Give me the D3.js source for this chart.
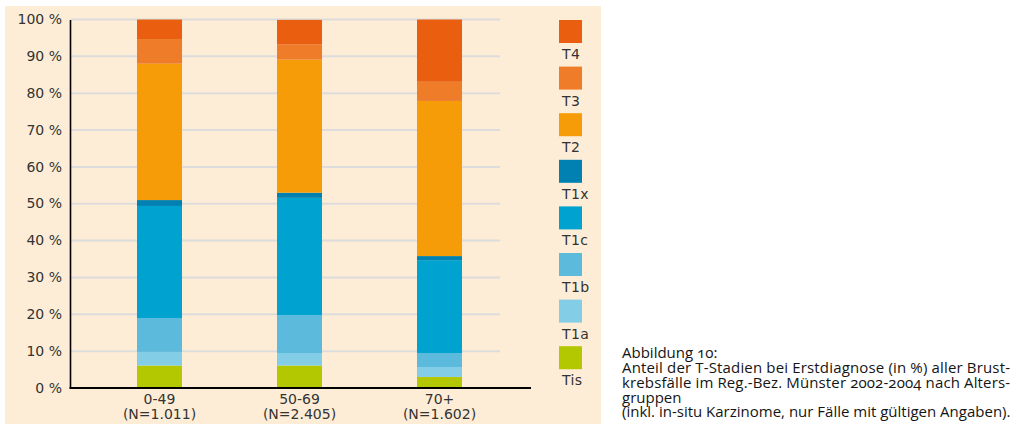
<!DOCTYPE html>
<html>
<head>
<meta charset="utf-8">
<script src="https://cdn.jsdelivr.net/npm/d3@7/dist/d3.min.js"></script>
<style>
  html, body { margin: 0; padding: 0; background: #ffffff; }
  svg { display: block; }
</style>
</head>
<body>
<svg id="chart" width="1021" height="427"></svg>
<script>
// Age groups and case counts
const groups = ["0-49", "50-69", "70+"];
const groupN = ["(N=1.011)", "(N=2.405)", "(N=1.602)"];

// T stage shares (%) per age group, bottom to top of each stack
const stages = ["Tis", "T1a", "T1b", "T1c", "T1x", "T2", "T3", "T4"];
const tis = [6.1, 6.1, 3.0];
const t1a = [3.7, 3.4, 2.7];
const t1b = [9.2, 10.3, 3.8];
const t1c = [30.4, 31.8, 25.2];
const t1x = [1.6, 1.4, 1.1];
const t2  = [37.0, 36.1, 42.1];
const t3  = [6.7, 4.1, 5.2];
const t4  = [5.3, 6.7, 16.9];

const yTicks = [0, 10, 20, 30, 40, 50, 60, 70, 80, 90, 100];

const stageColors = {
  Tis: "#b3c800",
  T1a: "#84cde7",
  T1b: "#5cbadc",
  T1c: "#00a3d0",
  T1x: "#0081b2",
  T2:  "#f59c08",
  T3:  "#ee7c29",
  T4:  "#e95e0f"
};

const captionLines = [
  "Abbildung 10:",
  "Anteil der T-Stadien bei Erstdiagnose (in %) aller Brust-",
  "krebsfälle im Reg.-Bez. Münster 2002-2004 nach Alters-",
  "gruppen",
  "(inkl. in-situ Karzinome, nur Fälle mit gültigen Angaben)."
];

// build rows for the stack layout
const seriesByStage = { Tis: tis, T1a: t1a, T1b: t1b, T1c: t1c, T1x: t1x, T2: t2, T3: t3, T4: t4 };
const rows = groups.map((g, i) => {
  const r = { group: g };
  stages.forEach(s => { r[s] = seriesByStage[s][i]; });
  return r;
});

const svg = d3.select("#chart");
const FONT = "'DejaVu Sans', sans-serif";
const TEXT = "#333333";

// cream panel behind the chart
svg.append("rect")
  .attr("x", 5).attr("y", 6)
  .attr("width", 596).attr("height", 418)
  .attr("fill", "#feedd6");

const y = d3.scaleLinear().domain([0, 100]).range([388, 19.5]);
const x = d3.scaleBand().domain(groups)
  .range([89.5, 509.5])
  .paddingInner(95 / 140)
  .paddingOuter(95 / 280);

// horizontal grid
svg.append("g").selectAll("line")
  .data(yTicks.filter(t => t > 0))
  .join("line")
  .attr("x1", 71).attr("x2", 500)
  .attr("y1", d => y(d)).attr("y2", d => y(d))
  .attr("stroke", "#dcdcdc")
  .attr("stroke-width", 2);

// stacked bars
const stacked = d3.stack().keys(stages)(rows);
svg.append("g").selectAll("g")
  .data(stacked)
  .join("g")
  .attr("fill", d => stageColors[d.key])
  .selectAll("rect")
  .data(d => d)
  .join("rect")
  .attr("x", d => x(d.data.group))
  .attr("width", x.bandwidth())
  .attr("y", d => y(d[1]))
  .attr("height", d => y(d[0]) - y(d[1]));

// y axis
const yAxis = svg.append("g")
  .attr("transform", "translate(70,0)")
  .call(d3.axisLeft(y).tickValues(yTicks).tickSize(0).tickPadding(8)
    .tickFormat(d => d + " %"));
yAxis.select(".domain").attr("stroke", "#000").attr("stroke-width", 1.6);
yAxis.selectAll("text")
  .attr("font-family", FONT).attr("font-size", 14)
  .attr("fill", TEXT).attr("dy", "0.3em");

// baseline
svg.append("line")
  .attr("x1", 69.5).attr("x2", 531)
  .attr("y1", y(0)).attr("y2", y(0))
  .attr("stroke", "#000").attr("stroke-width", 1.8);

// category labels
const xl = svg.append("g").selectAll("text")
  .data(groups)
  .join("text")
  .attr("x", d => x(d) + x.bandwidth() / 2)
  .attr("text-anchor", "middle")
  .attr("font-family", FONT).attr("font-size", 14)
  .attr("fill", TEXT);
xl.append("tspan").attr("x", d => x(d) + x.bandwidth() / 2).attr("y", 404).text(d => d);
xl.append("tspan").attr("x", d => x(d) + x.bandwidth() / 2).attr("y", 418.5)
  .text((d, i) => groupN[i]);

// legend, top stage first
const legendStages = stages.slice().reverse();
const legend = svg.append("g").selectAll("g")
  .data(legendStages)
  .join("g")
  .attr("transform", (d, i) => `translate(559,${20 + i * 46.6})`);
legend.append("rect")
  .attr("width", 23).attr("height", 23)
  .attr("fill", d => stageColors[d]);
legend.append("text")
  .attr("x", 3).attr("y", 39)
  .attr("font-family", FONT).attr("font-size", 14)
  .attr("letter-spacing", 0.4)
  .attr("fill", TEXT)
  .text(d => d);

// caption block, lines 2 and 3 justified
const justify = [false, true, true, false, false];
const cap = svg.append("text")
  .attr("font-family", "'Open Sans', sans-serif")
  .attr("font-size", 15)
  .style("font-variant-numeric", "oldstyle-nums")
  .attr("fill", "#151515");
cap.selectAll("tspan")
  .data(captionLines)
  .join("tspan")
  .attr("x", 622)
  .attr("y", (d, i) => 358.3 + i * 14.75)
  .attr("textLength", (d, i) => justify[i] ? 388 : null)
  .attr("lengthAdjust", (d, i) => justify[i] ? "spacing" : null)
  .text(d => d);
</script>
</body>
</html>
